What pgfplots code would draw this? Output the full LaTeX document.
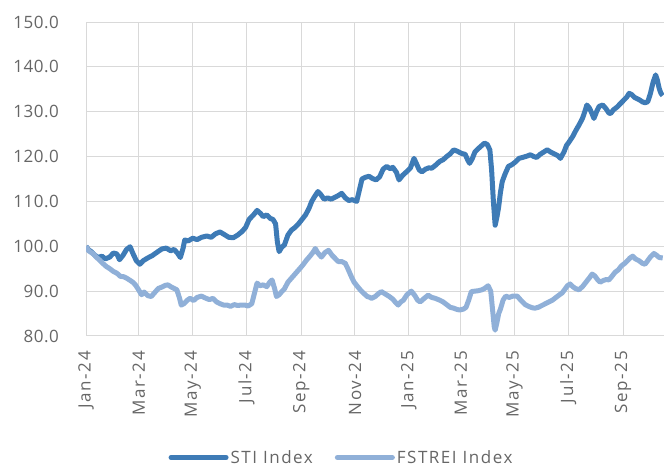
\documentclass[border=0pt]{standalone}
\usepackage{fontspec}
\setmainfont[LetterSpace=3]{Open Sans}
\newfontfamily\widefont[LetterSpace=9]{Open Sans}
\usepackage{pgfplots}
\pgfplotsset{compat=1.18}
\usepackage{pgfplotstable}

\definecolor{stiblue}{HTML}{3E7BB6}
\definecolor{reitblue}{HTML}{90B0D8}
\definecolor{labelgray}{HTML}{666666}
\definecolor{gridgray}{HTML}{D9D9D9}

% STI Index, rebased to 100 (x = days since 1 Jan 2024)
\pgfplotstableread{
day val
0 100.0
3 99.2
6 98.8
10 98.0
14 97.5
18 97.8
22 97.2
27 97.6
31 98.5
35 98.3
38 97.0
42 98.0
46 99.3
50 99.9
53 98.5
57 96.8
61 96.0
65 96.8
70 97.4
75 97.9
80 98.6
86 99.4
91 99.6
96 99.0
100 99.3
104 98.4
107 97.5
110 99.5
112 101.4
116 101.2
121 101.8
126 101.5
131 102.0
137 102.3
142 102.0
147 102.8
152 103.2
157 102.6
162 102.0
167 101.9
172 102.5
177 103.3
181 104.2
185 106.0
190 107.0
194 108.0
198 107.3
201 106.6
205 107.0
209 106.2
212 106.0
215 105.0
217 101.0
219 98.8
222 99.8
225 100.3
229 102.5
233 103.6
237 104.2
241 105.0
245 106.0
249 107.0
253 108.5
256 110.0
259 111.0
263 112.2
266 111.6
270 110.5
274 110.8
278 110.5
282 110.9
286 111.3
290 111.8
294 110.8
298 110.2
302 110.4
307 110.0
310 112.5
313 115.0
317 115.4
321 115.6
325 115.1
329 114.8
333 115.5
337 117.2
341 117.8
345 117.3
348 117.6
352 116.5
355 114.8
359 115.8
364 116.7
368 117.5
372 119.6
375 118.3
378 117.0
381 116.6
385 117.2
389 117.5
392 117.4
396 118.0
401 118.9
405 119.3
409 120.0
413 120.6
417 121.5
421 121.2
426 120.7
430 120.5
433 119.2
435 118.5
438 119.5
441 121.0
445 121.8
449 122.5
452 123.0
455 122.7
458 121.5
460 117.0
462 110.0
464 104.7
466 106.5
468 108.8
470 112.0
472 114.4
475 116.0
479 117.8
483 118.2
487 118.8
491 119.6
495 119.8
500 120.1
504 120.4
508 120.0
511 119.8
515 120.5
519 121.0
523 121.5
527 121.0
531 120.6
535 120.2
538 119.6
542 121.0
545 122.5
548 123.3
552 124.5
556 126.0
559 127.0
563 128.5
566 130.2
568 131.5
571 130.8
574 129.5
576 128.5
579 130.0
582 131.2
586 131.5
590 130.6
593 129.7
595 129.6
598 130.4
602 131.0
606 131.8
610 132.6
613 133.2
616 134.1
619 133.8
622 133.2
625 132.9
628 132.6
631 132.2
634 132.0
637 132.2
640 134.0
643 136.5
646 138.2
648 137.0
650 135.2
652 134.1
654 133.6
}\stidata

% FTSE ST Real Estate Investment Trusts Index, rebased to 100
\pgfplotstableread{
day val
0 100.0
3 99.0
6 98.6
9 98.2
12 97.5
15 97.0
19 96.2
23 95.5
27 95.0
31 94.4
35 94.0
39 93.3
43 93.2
46 92.9
50 92.4
53 92.0
56 91.4
59 90.5
63 89.2
66 89.8
70 89.0
74 88.8
78 89.7
82 90.6
86 90.9
90 91.3
93 91.4
96 91.0
100 90.6
103 90.3
106 88.5
108 86.9
111 87.2
115 88.0
118 88.4
122 87.9
126 88.6
131 88.9
135 88.5
140 88.1
144 88.4
148 87.6
152 87.2
156 86.9
160 86.9
164 86.6
168 87.0
172 86.8
176 86.9
180 86.9
184 86.7
188 87.2
191 89.5
194 91.8
197 91.2
201 91.4
205 91.0
208 91.9
211 92.5
214 90.5
216 88.8
219 89.2
222 89.9
225 90.5
229 92.0
233 92.9
237 93.8
241 94.7
245 95.6
250 96.9
254 97.8
258 98.8
260 99.5
263 98.5
267 97.6
271 98.6
275 99.1
279 98.0
283 97.2
286 96.6
290 96.6
294 96.2
297 95.0
301 93.2
304 92.0
308 91.0
311 90.3
315 89.5
319 88.8
322 88.6
324 88.4
328 88.8
332 89.5
335 89.9
339 89.4
344 88.8
348 88.2
351 87.5
354 86.9
357 87.6
360 88.0
364 89.2
369 90.0
373 89.0
376 88.0
379 87.6
383 88.3
388 89.1
392 88.6
396 88.4
401 88.0
405 87.6
409 87.0
413 86.4
417 86.2
421 85.9
424 85.8
428 86.0
431 86.4
434 88.0
437 89.9
441 90.0
445 90.1
449 90.3
452 90.6
456 91.2
459 90.0
461 86.0
463 82.0
464 81.3
466 83.0
468 85.0
470 86.0
473 88.0
476 88.9
480 88.6
484 88.9
489 88.9
493 88.0
498 87.0
502 86.6
506 86.3
509 86.2
513 86.4
517 86.8
521 87.2
525 87.6
529 88.0
533 88.6
537 89.2
540 89.6
543 90.4
546 91.2
549 91.6
552 91.0
555 90.6
559 90.3
563 91.0
567 92.0
571 93.0
574 93.8
577 93.4
580 92.6
583 92.0
587 92.4
590 92.6
593 92.5
596 93.2
600 94.2
604 94.8
607 95.6
611 96.2
614 96.8
617 97.4
620 97.8
623 97.2
627 96.8
631 96.2
634 96.0
637 96.8
640 97.6
644 98.4
647 98.0
650 97.5
654 97.4
}\reitdata

\begin{document}
\begin{tikzpicture}
\path[use as bounding box] (0pt,0pt) rectangle (664pt,468pt);
\begin{axis}[
  at={(86pt,132pt)}, anchor=south west,
  scale only axis,
  width=590.8pt, height=314pt,
  xmin=0, xmax=670,
  ymin=80, ymax=150,
  xtick={0,60,121,182,244,305,366,425,486,547,609},
  xticklabels={Jan-24,Mar-24,May-24,Jul-24,Sep-24,Nov-24,Jan-25,Mar-25,May-25,Jul-25,Sep-25},
  ytick={80,90,...,150},
  /pgf/number format/fixed,
  /pgf/number format/fixed zerofill,
  /pgf/number format/precision=1,
  /pgf/number format/assume math mode=true,
  axis line style={draw=none},
  major tick length=0pt,
  grid=major,
  major grid style={draw=gridgray, line width=1pt},
  tick label style={font=\fontsize{17}{20}\selectfont, text=labelgray},
  xticklabel style={font=\widefont\fontsize{17}{20}\selectfont, rotate=90, anchor=east, inner sep=0pt},
  xticklabel shift=15pt,
  yticklabel style={anchor=east, inner sep=0pt},
  yticklabel shift=27pt,
  legend columns=2,
  legend style={draw=none, fill=none, font=\widefont\fontsize{17}{20}\selectfont, text=labelgray,
    at={(0.4325,-0.3870)}, anchor=center,
    /tikz/every even column/.append style={column sep=20pt}},
  legend image code/.code={\draw[#1, line cap=round] (0pt,0pt) -- (55pt,0pt);},
]
\addplot[stiblue, line width=5pt, line join=round] table[x=day, y=val] {\stidata};
\addlegendentry{STI Index}
\addplot[reitblue, line width=5pt, line join=round] table[x=day, y=val] {\reitdata};
\addlegendentry{FSTREI Index}
\end{axis}
\end{tikzpicture}
\end{document}
